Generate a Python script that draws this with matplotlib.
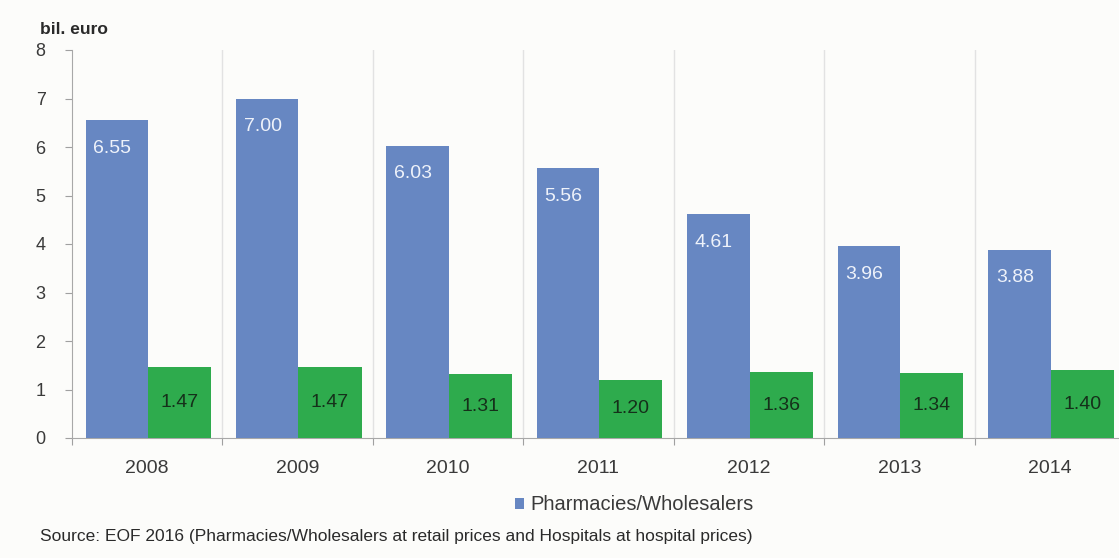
import matplotlib
matplotlib.use("Agg")
import matplotlib.pyplot as plt
from matplotlib.patches import Patch
import numpy as np

years = ["2008", "2009", "2010", "2011", "2012", "2013", "2014"]
pharmacies = [6.55, 7.00, 6.03, 5.56, 4.61, 3.96, 3.88]
hospitals = [1.47, 1.47, 1.31, 1.20, 1.36, 1.34, 1.40]

BLUE = "#6787c2"
GREEN = "#2eab4d"
TEXT = "#3a3a3a"
BG = "#fcfcfa"

plt.rcParams["font.family"] = ["Liberation Sans", "DejaVu Sans"]

fig = plt.figure(figsize=(11.19, 5.58), dpi=100, facecolor=BG)
ax = fig.add_axes([72 / 1119, 1 - 438 / 558, 1053 / 1119, 388 / 558], facecolor=BG)

x = np.arange(len(years))
w_blue, w_green = 0.415, 0.42
left_blue = x - 0.5 + 0.09
b1 = ax.bar(left_blue, pharmacies, width=w_blue, align="edge", color=BLUE, zorder=3)
b2 = ax.bar(left_blue + w_blue, hospitals, width=w_green, align="edge", color=GREEN, zorder=3)

for rect, v in zip(b1, pharmacies):
    ax.text(rect.get_x() + rect.get_width() / 2 - 0.03, v - 0.58, f"{v:.2f}",
            ha="center", va="center", color="#eef2fa", fontsize=14, zorder=4)
for rect, v in zip(b2, hospitals):
    ax.text(rect.get_x() + rect.get_width() / 2, v / 2, f"{v:.2f}",
            ha="center", va="center", color="#15301a", fontsize=14, zorder=4)

ax.set_xlim(-0.5, len(years) - 0.5)
ax.set_ylim(0, 8)
ax.set_yticks(range(0, 9))
ax.tick_params(axis="y", direction="out", length=5, width=0.8, color="#a0a0a0",
               labelsize=13, labelcolor=TEXT, pad=14)

# Category boundaries carry the ticks and the vertical grid lines
bounds = np.arange(-0.5, len(years) + 0.5, 1.0)
ax.set_xticks(bounds)
ax.set_xticklabels([])
ax.tick_params(axis="x", direction="out", length=5, width=0.8, color="#a0a0a0")
for b in bounds[1:]:
    ax.axvline(b, color="#e2e2e2", lw=1.0, zorder=1)
for xi, yr in zip(x, years):
    ax.text(xi, -0.45, yr, ha="center", va="top", fontsize=14, color=TEXT)

for s in ["top", "right"]:
    ax.spines[s].set_visible(False)
ax.spines["left"].set_color("#a8a8a8")
ax.spines["bottom"].set_color("#a8a8a8")

fig.text(40 / 1119, 1 - 30 / 558, "bil. euro", fontsize=12.5, fontweight="bold",
         color="#2a2a2a", ha="left", va="center")

fig.legend(handles=[Patch(facecolor=BLUE, label="Pharmacies/Wholesalers")],
           loc="center", bbox_to_anchor=(634 / 1119, 1 - 505 / 558), frameon=False,
           fontsize=14.5, handlelength=0.45, handleheight=0.45, handletextpad=0.3,
           labelcolor=TEXT)

fig.text(40 / 1119, 1 - 536 / 558,
         "Source: EOF 2016 (Pharmacies/Wholesalers at retail prices and Hospitals at hospital prices)",
         fontsize=12.5, color="#2a2a2a", ha="left", va="center")

fig.savefig("out.png", dpi=100, facecolor=BG)
